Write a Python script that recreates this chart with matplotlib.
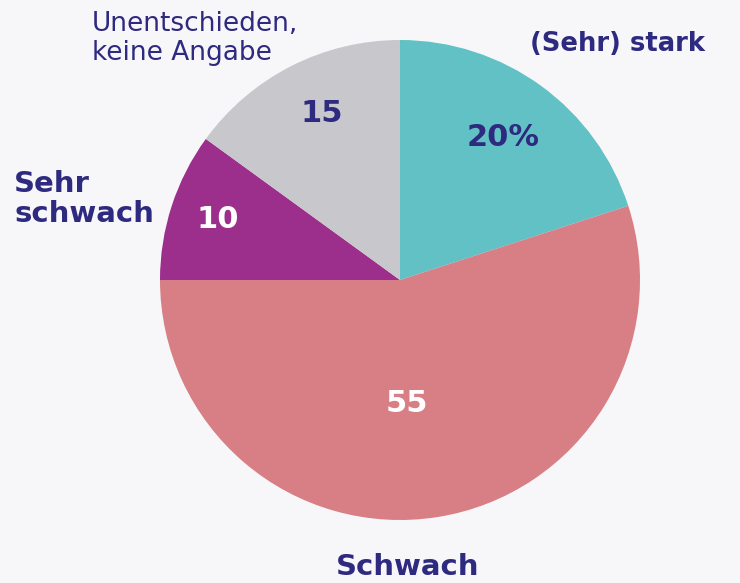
import matplotlib.pyplot as plt

# Share of answers, clockwise from 12 o'clock
categories = ['(Sehr) stark', 'Schwach', 'Sehr schwach', 'Unentschieden,\nkeine Angabe']
values = [20, 55, 10, 15]
value_labels = ['20%', '55', '10', '15']
colors = ['#62c1c4', '#d87e85', '#9b2f8b', '#c8c8cc']

navy = '#2e2a80'
bg = '#f7f7f9'
plt.rcParams['font.family'] = ['DejaVu Sans']

W, H = 740, 583
fig = plt.figure(figsize=(W / 100, H / 100), dpi=100, facecolor=bg)
ax = fig.add_axes([0, 0, 1, 1])
ax.set_facecolor(bg)

cx, cy, r = 400, H - 280, 240
ax.pie(values, colors=colors, startangle=90, counterclock=False,
       center=(cx, cy), radius=r, frame=True,
       wedgeprops=dict(linewidth=0))
ax.set_xlim(0, W)
ax.set_ylim(0, H)
ax.set_aspect('equal')
ax.axis('off')

# value labels inside the slices
val_pos = [(503, 138), (407, 404), (218, 219), (322, 114)]
val_colors = [navy, 'white', 'white', navy]
for (x, y), t, c in zip(val_pos, value_labels, val_colors):
    ax.text(x, H - y, t, ha='center', va='center', fontsize=22,
            fontweight='bold', color=c)

# category labels
ax.text(530, H - 44, categories[0], ha='left', va='center', fontsize=18.6,
        fontweight='bold', color=navy)
ax.text(408, H - 567, categories[1], ha='center', va='center', fontsize=21,
        fontweight='bold', color=navy)
ax.text(14, H - 199, 'Sehr\nschwach', ha='left', va='center', fontsize=21,
        fontweight='bold', color=navy, linespacing=1.1)
ax.text(92, H - 38, categories[3], ha='left', va='center', fontsize=19,
        color=navy, linespacing=1.15)

fig.savefig('out.png', dpi=100, facecolor=bg)
